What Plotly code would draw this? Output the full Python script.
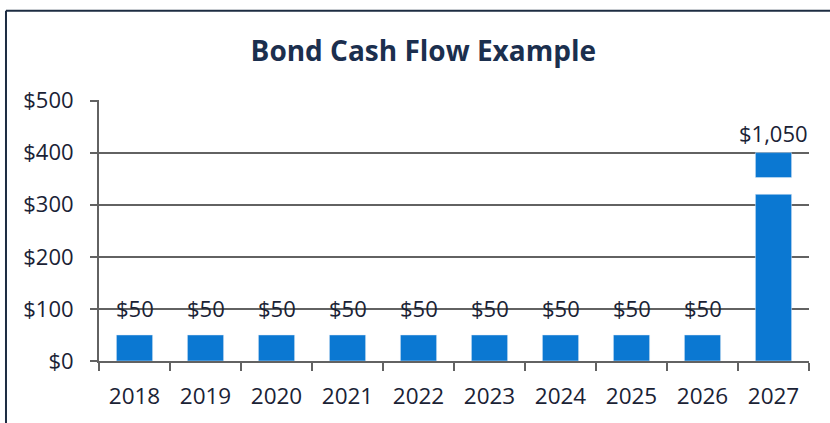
import plotly.graph_objects as go

years = ["2018", "2019", "2020", "2021", "2022", "2023", "2024", "2025", "2026", "2027"]
cash_flows = [50, 50, 50, 50, 50, 50, 50, 50, 50, 1050]
value_labels = ["$50", "$50", "$50", "$50", "$50", "$50", "$50", "$50", "$50", "$1,050"]
y_ticks = [0, 100, 200, 300, 400, 500]
y_tick_labels = ["$0", "$100", "$200", "$300", "$400", "$500"]

axis_cap = 400      # tallest drawn height before the axis break
break_low = 320     # bottom of the white break on the capped bar
break_high = 352    # top of the white break on the capped bar

BAR = "#0b78d2"
FONT = "Open Sans"
TXT = "#1a2235"
AX = "#626262"

normal_x = [y for y, v in zip(years, cash_flows) if v <= axis_cap]
normal_y = [v for v in cash_flows if v <= axis_cap]
capped_x = [y for y, v in zip(years, cash_flows) if v > axis_cap]

fig = go.Figure()
fig.add_trace(go.Bar(x=normal_x, y=normal_y, marker_color=BAR, hoverinfo="skip"))
fig.add_trace(go.Bar(x=capped_x, y=[break_low] * len(capped_x), marker_color=BAR, hoverinfo="skip"))
fig.add_trace(go.Bar(x=capped_x, y=[axis_cap - break_high] * len(capped_x),
                     base=[break_high] * len(capped_x), marker_color=BAR, hoverinfo="skip"))

for i, (v, lab) in enumerate(zip(cash_flows, value_labels)):
    shown = min(v, axis_cap)
    fig.add_annotation(x=i, y=shown, text=lab, showarrow=False, yanchor="bottom",
                       yshift=10 if v <= axis_cap else 3,
                       font=dict(family=FONT, size=22, color=TXT))

frame = dict(color="#1d2c42", width=2)
fig.add_shape(type="line", xref="paper", yref="paper", x0=-0.131, x1=-0.131, y0=-0.4, y1=1.342, line=frame)
fig.add_shape(type="line", xref="paper", yref="paper", x0=-0.131, x1=1.1, y0=1.342, y1=1.342, line=frame)

fig.update_layout(
    width=830, height=423,
    margin=dict(l=99, r=21, t=100, b=62),
    paper_bgcolor="white", plot_bgcolor="white",
    barmode="overlay", bargap=0.49, showlegend=False,
    title=dict(text="<b>Bond Cash Flow Example</b>", x=0.51, xanchor="center",
               y=0.878, yanchor="middle",
               font=dict(family=FONT, size=28, color="#1b2f4e")),
    font=dict(family=FONT, size=22, color=TXT),
)
fig.update_xaxes(type="category", categoryorder="array", categoryarray=years,
                 range=[-0.5, len(years) - 0.5],
                 showline=True, linecolor=AX, linewidth=2,
                 ticks="outside", tickson="boundaries", ticklen=8, tickwidth=2, tickcolor=AX,
                 showgrid=False, tickfont=dict(family=FONT, size=22.5, color=TXT),
                 ticklabelstandoff=14)
fig.update_yaxes(range=[0, 501], tickvals=y_ticks, ticktext=y_tick_labels,
                 showline=True, linecolor=AX, linewidth=2,
                 ticks="outside", ticklen=7, tickwidth=2, tickcolor=AX,
                 showgrid=True, gridcolor=AX, gridwidth=1.5, zeroline=False,
                 tickfont=dict(family=FONT, size=22, color=TXT),
                 ticklabelstandoff=12)

fig.write_html("out.html")
